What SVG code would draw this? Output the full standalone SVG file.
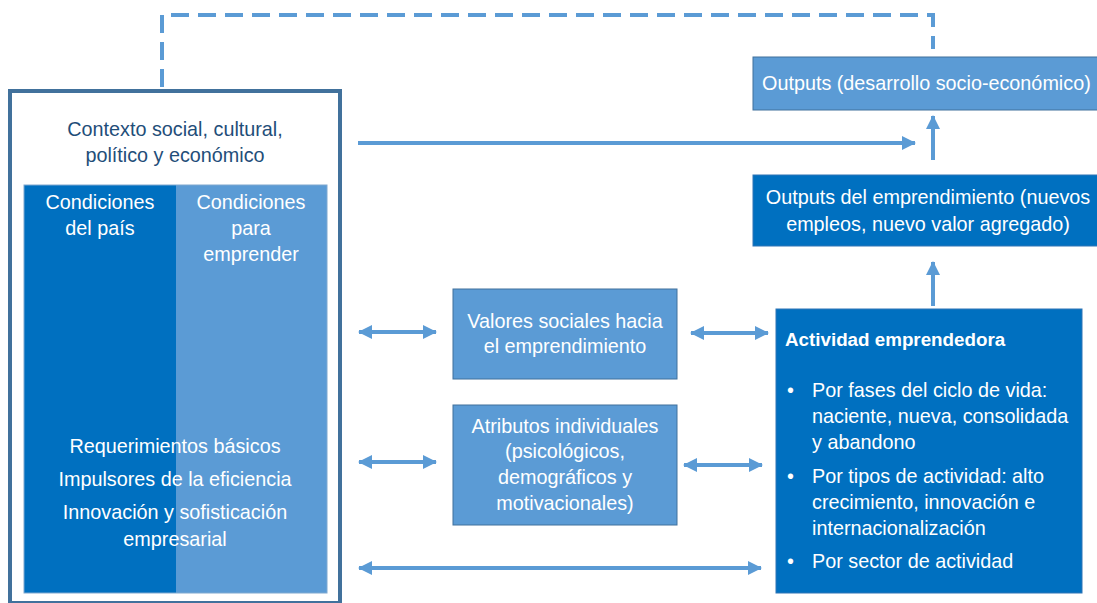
<svg xmlns="http://www.w3.org/2000/svg" width="1097" height="603" viewBox="0 0 1097 603">
<style>
text{font-family:"Liberation Sans",Arial,sans-serif;font-size:19.8px;fill:#fff}
.dk{fill:#1F4E79}
.c{text-anchor:middle}
.b{font-weight:bold;font-size:18.8px}
.ln{stroke:#5B9BD5;stroke-width:4;fill:none}
.dark{fill:#0070C0;stroke:#2E75B6;stroke-width:1}
.light{fill:#5B9BD5;stroke:#41719C;stroke-width:1}
</style>
<defs>
<marker id="ah" viewBox="0 0 14 14" refX="13" refY="7" markerWidth="14" markerHeight="14" markerUnits="userSpaceOnUse" orient="auto-start-reverse">
<path d="M0,0 L14,7 L0,14 Z" fill="#5B9BD5"/>
</marker>
</defs>
<rect width="1097" height="603" fill="#fff"/>

<g id="contexto">
<rect x="10" y="91" width="330" height="512" fill="#fff" stroke="#41719C" stroke-width="4"/>
<text class="dk c" x="175" y="136">Contexto social, cultural,</text>
<text class="dk c" x="175" y="162">político y económico</text>
</g>
<g id="condiciones">
<rect x="24" y="185" width="152" height="408" fill="#0070C0"/>
<rect x="176" y="185" width="151" height="408" fill="#5B9BD5"/>
<rect x="24" y="185" width="303" height="408" fill="none" stroke="#7FA8D0" stroke-width="1"/>
<text class="c" x="100" y="209">Condiciones</text>
<text class="c" x="100" y="235">del país</text>
<text class="c" x="251" y="209">Condiciones</text>
<text class="c" x="251" y="235">para</text>
<text class="c" x="251" y="261">emprender</text>
<text class="c" x="175" y="453">Requerimientos básicos</text>
<text class="c" x="175" y="486">Impulsores de la eficiencia</text>
<text class="c" x="175" y="519">Innovación y sofisticación</text>
<text class="c" x="175" y="546">empresarial</text>
</g>

<g id="outputs-desarrollo">
<rect class="light" x="753" y="57" width="350" height="53"/>
<text x="762" y="90">Outputs (desarrollo socio-económico)</text>
</g>
<g id="outputs-emprendimiento">
<rect class="dark" x="753" y="175" width="350" height="71"/>
<text class="c" x="928" y="204">Outputs del emprendimiento (nuevos</text>
<text class="c" x="928" y="231">empleos, nuevo valor agregado)</text>
</g>
<g id="valores">
<rect class="light" x="453" y="289" width="224" height="90"/>
<text class="c" x="565" y="328">Valores sociales hacia</text>
<text class="c" x="565" y="353">el emprendimiento</text>
</g>
<g id="atributos">
<rect class="light" x="453" y="405" width="224" height="120"/>
<text class="c" x="565" y="433">Atributos individuales</text>
<text class="c" x="565" y="458">(psicológicos,</text>
<text class="c" x="565" y="484">demográficos y</text>
<text class="c" x="565" y="510">motivacionales)</text>
</g>
<g id="actividad">
<rect class="dark" x="776" y="309" width="306" height="284"/>
<text class="b" x="785" y="346">Actividad emprendedora</text>
<text x="787" y="397">•</text>
<text x="812" y="397">Por fases del ciclo de vida:</text>
<text x="812" y="423">naciente, nueva, consolidada</text>
<text x="812" y="449">y abandono</text>
<text x="787" y="483">•</text>
<text x="812" y="483">Por tipos de actividad: alto</text>
<text x="812" y="509">crecimiento, innovación e</text>
<text x="812" y="535">internacionalización</text>
<text x="787" y="568">•</text>
<text x="812" y="568">Por sector de actividad</text>
</g>

<g id="connectors">
<path class="ln" d="M162,87 V15 H933 V49" stroke-dasharray="18,9"/>
<line class="ln" x1="358" y1="143" x2="915" y2="143" marker-end="url(#ah)"/>
<line class="ln" x1="933" y1="160" x2="933" y2="116" marker-end="url(#ah)"/>
<line class="ln" x1="933" y1="306" x2="933" y2="262" marker-end="url(#ah)"/>
<line class="ln" x1="359" y1="332" x2="436" y2="332" marker-start="url(#ah)" marker-end="url(#ah)"/>
<line class="ln" x1="691" y1="333" x2="768" y2="333" marker-start="url(#ah)" marker-end="url(#ah)"/>
<line class="ln" x1="359" y1="462" x2="436" y2="462" marker-start="url(#ah)" marker-end="url(#ah)"/>
<line class="ln" x1="684" y1="465" x2="762" y2="465" marker-start="url(#ah)" marker-end="url(#ah)"/>
<line class="ln" x1="359" y1="568" x2="761" y2="568" marker-start="url(#ah)" marker-end="url(#ah)"/>
</g>
</svg>
